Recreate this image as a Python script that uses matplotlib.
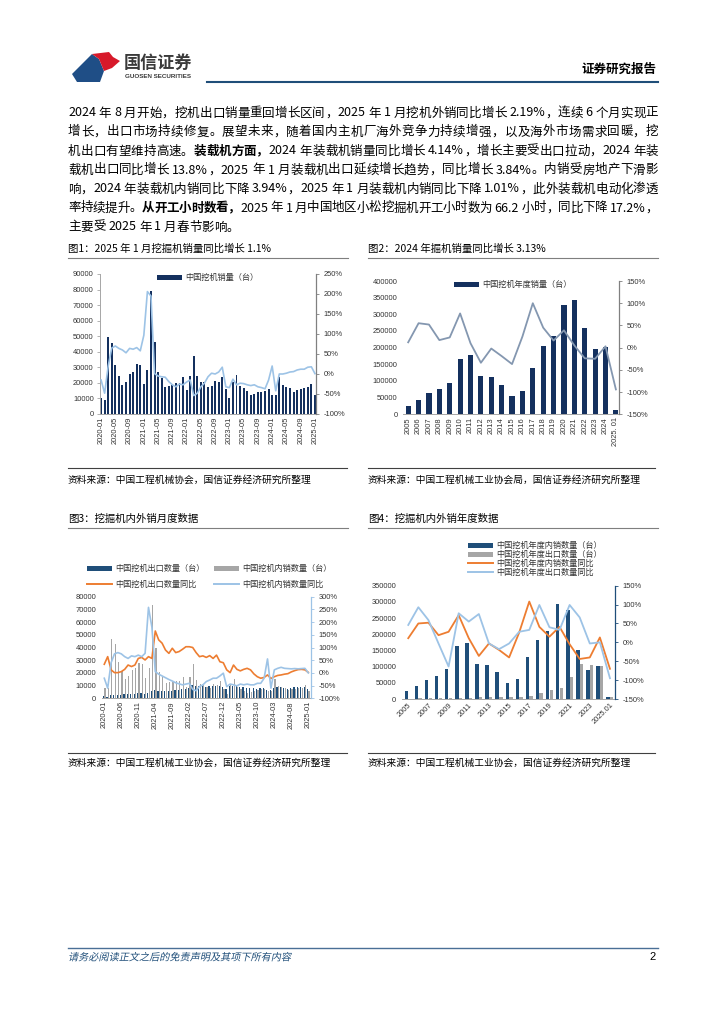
import numpy as np
import pandas as pd
import matplotlib
matplotlib.use("Agg")
import matplotlib.pyplot as plt
from matplotlib.font_manager import FontProperties
from matplotlib.lines import Line2D
from matplotlib.patches import Polygon, Rectangle, PathPatch
from matplotlib.textpath import TextPath
from matplotlib.transforms import Affine2D
from matplotlib.ticker import FuncFormatter, MultipleLocator

CJK = ["Noto Sans CJK SC", "DejaVu Sans"]
NUM = ["Liberation Sans", "DejaVu Sans"]
plt.rcParams["font.family"] = CJK
plt.rcParams["axes.unicode_minus"] = False

# ── data ────────────────────────────────────────────────────
months = pd.period_range("2020-01", "2025-01", freq="M").strftime("%Y-%m").tolist()

# fig 1: monthly excavator sales (units) and yoy (%)
excav_total = [10000, 9000, 49400, 45400, 31500, 24400, 18600, 20600, 25700, 27000, 32100, 31300,
               19300, 28300, 79300, 46300, 27000, 23100, 17600, 18200, 18500, 20000, 20000, 24000,
               15600, 24400, 37500, 24400, 20700, 20300, 17500, 18000, 21000, 20300, 23500, 16300,
               10500, 20300, 25000, 18200, 16500, 15000, 12200, 12900, 13900, 13900, 14800, 15900,
               12400, 12500, 23500, 18500, 17500, 16500, 14100, 15200, 15800, 16600, 17600, 19300,
               12500]
excav_yoy = [-15, -48, 20, 65, 70, 64, 60, 53, 64, 62, 66, 58,
             97, 206, 195, 1, -5, -7, -8, -19, -27, -32, -25, -27,
             -20, -15, -54, -48, -32, -23, -7, 2, 0, 5, 17, -32,
             -34, -13, -27, -23, -24, -27, -29, -27, -32, -34, -37, -15,
             20, -42, 0, 0, 2, 5, 6, 10, 12, 12, 17, 18,
             1]

# fig 2: annual excavator sales
years = [str(y) for y in range(2005, 2025)]
annual_labels = years + ["2025. 01"]
annual_sales = [26000, 43000, 65000, 76000, 94000, 166000, 178000, 115000, 111000, 88000,
                56000, 69000, 140000, 204000, 235000, 329000, 343000, 260000, 195000, 201000,
                12500]
annual_yoy = [12, 55, 52, 17, 23, 77, 10, -34, -2, -19, -37, 25, 100, 45, 16, 39, 5, -24, -25, 3, -94]

# fig 3: monthly export / domestic
export_m = [1700, 1100, 2800, 2500, 2600, 2800, 3100, 3000, 3500, 3400, 4000, 4200,
            3600, 4300, 6100, 6300, 6100, 6000, 5600, 5400, 6000, 6200, 6700, 7100,
            7000, 7800, 10400, 9800, 9500, 9300, 8900, 9500, 9900, 9800, 10000, 8800,
            7500, 9500, 10000, 9500, 9000, 9000, 7800, 7900, 8000, 7700, 7800, 8200,
            6900, 6500, 8500, 8700, 8600, 8500, 7600, 8200, 8700, 8700, 9200, 9200,
            7100]
domestic_m = [8300, 7900, 46600, 42900, 28900, 21600, 15500, 17600, 22200, 23600, 28100, 27100,
              15700, 24000, 73200, 40000, 20900, 17100, 12000, 12800, 12500, 13800, 13300, 16900,
              8600, 16600, 27100, 14600, 11200, 11000, 8600, 8500, 11100, 10500, 13500, 7500,
              3000, 10800, 15000, 8700, 7500, 6000, 4400, 5000, 5900, 6200, 7000, 7700,
              5500, 6000, 15000, 9800, 8900, 8000, 6500, 7000, 7100, 7900, 8400, 10100,
              5400]
export_yoy = [34, 64, 12, 1, 1, 5, 14, 31, 25, 31, 57, 61,
              51, 64, 57, 165, 130, 117, 90, 77, 97, 80, 84, 93,
              103, 103, 100, 80, 64, 67, 61, 68, 57, 70, 44, 40,
              12, 1, 31, 14, 8, 14, 18, 12, -4, -15, -21, -18,
              -8, -22, -15, -10, -8, -5, -3, 4, 9, 13, 14, 12,
              2]
domestic_yoy = [-21, -60, 40, 75, 80, 75, 64, 57, 67, 64, 70, 64,
                77, 258, 180, 5, -5, -12, -19, -26, -32, -39, -43, -47,
                -44, -41, -65, -70, -54, -47, -34, -28, -21, -21, -12, -1,
                -54, -44, -47, -51, -44, -47, -44, -47, -47, -41, -41, -21,
                55, -60, 12, 18, 22, 18, 17, 16, 17, 16, 17, 18,
                0]

# fig 4: annual export / domestic
annual_labels4 = years + ["2025.01"]
dom_annual = [24700, 40000, 58600, 72000, 92600, 163600, 174000, 107000, 105000, 83300,
              49400, 61700, 130700, 183000, 210000, 293000, 274700, 151000, 90000, 100500, 5400]
exp_annual = [1300, 2500, 4200, 4500, 1800, 2800, 4500, 6800, 6500, 5200,
              6300, 7300, 9700, 19100, 26900, 34700, 68400, 109500, 105000, 100600, 7100]
dom_annual_yoy = [11, 50, 52, 19, 28, 72, 11, -36, -3, -20, -40, 26, 108, 41, 15, 41, -5, -44, -40, 13, -70]
exp_annual_yoy = [46, 93, 59, -3, -64, 77, 55, 75, -3, -18, -3, 28, 33, 99, 40, 33, 99, 66, -3, 0, -95]

# ── colours ─────────────────────────────────────────────────
NAVY = "#14305E"
BLUE = "#1F4E79"
GRAY = "#A6A6A6"
ORANGE = "#ED7D31"
LIGHT = "#9DC3E6"
SLATE = "#8497B0"
TXT = "#333333"

# ── page helpers ────────────────────────────────────────────
W, H = 724, 1024
fig = plt.figure(figsize=(W / 100, H / 100), dpi=100)
renderer = fig.canvas.get_renderer()


def fx(x):
    return x / W


def fy(y):
    return 1 - y / H


def box(x0, y0, x1, y1):
    return [fx(x0), fy(y1), (x1 - x0) / W, (y1 - y0) / H]


def hline(x0, x1, y, color, lw):
    fig.add_artist(Line2D([fx(x0), fx(x1)], [fy(y), fy(y)], color=color, lw=lw))


def ftext(x, y, s, size, **kw):
    kw.setdefault("va", "center")
    return fig.text(fx(x), fy(y), s, fontsize=size, **kw)


def advance(s, fp):
    w2 = renderer.get_text_width_height_descent("中" + s + "中", fp, ismath=False)[0]
    w0 = renderer.get_text_width_height_descent("中中", fp, ismath=False)[0]
    return w2 - w0


def para_line(parts, y, x0=68, x1=None, size=9.0):
    toks = []
    for s, bold in parts:
        fp = FontProperties(family=CJK, size=size, weight="bold" if bold else "normal")
        run = ""
        for ch in s:
            if ch.isascii() and ch != " ":
                run += ch
                continue
            if run:
                toks.append((run, fp))
                run = ""
            toks.append((ch, fp))
        if run:
            toks.append((run, fp))
    widths = [advance(t, fp) for t, fp in toks]
    gap = 0 if x1 is None else (x1 - x0 - sum(widths)) / (len(toks) - 1)
    x = x0
    for (t, fp), w in zip(toks, widths):
        if t != " ":
            fig.text(fx(x), fy(y), t, fontproperties=fp, va="baseline", ha="left", color="black")
        x += w + gap


def key_bar(x, y, color, label, w=25, h=5):
    fig.add_artist(Rectangle((fx(x), fy(y + h / 2)), w / W, h / H, color=color, lw=0))
    ftext(x + w + 3, y, label, 5.9, color=TXT)


def key_line(x, y, color, label, w=25):
    hline(x, x + w, y, color, 1.4)
    ftext(x + w + 3, y, label, 5.9, color=TXT)


def style_axes(ax, axr, left_on, right_color):
    for a in (ax, axr):
        a.spines["top"].set_visible(False)
    ax.spines["right"].set_visible(False)
    axr.spines["left"].set_visible(False)
    axr.spines["bottom"].set_visible(False)
    ax.spines["left"].set_visible(left_on)
    ax.spines["left"].set_color(GRAY)
    ax.spines["bottom"].set_color(GRAY)
    ax.spines["left"].set_linewidth(0.7)
    ax.spines["bottom"].set_linewidth(0.7)
    axr.spines["right"].set_color(right_color)
    axr.spines["right"].set_linewidth(0.9)
    ax.tick_params(axis="y", length=2.5 if left_on else 0, width=0.6, color=GRAY,
                   labelsize=5.4, labelcolor=TXT, pad=2 if left_on else 4, labelfontfamily=NUM)
    axr.tick_params(axis="y", length=2.5, width=0.6, color=right_color,
                    labelsize=5.4, labelcolor=TXT, pad=3, labelfontfamily=NUM)
    ax.tick_params(axis="x", length=0, labelsize=5.4, labelcolor=TXT, pad=2, labelfontfamily=NUM)
    ax.yaxis.set_major_formatter(FuncFormatter(lambda v, _: f"{v:.0f}"))
    axr.yaxis.set_major_formatter(FuncFormatter(lambda v, _: f"{v:.0f}%"))
    ax.set_facecolor("none")


# ── header ──────────────────────────────────────────────────
fig.add_artist(Polygon([(fx(72), fy(74)), (fx(92), fy(54)), (fx(99), fy(59)), (fx(104), fy(71)),
                        (fx(100), fy(82)), (fx(77), fy(82))], closed=True, color="#1F4E86", lw=0))
fig.add_artist(Polygon([(fx(92), fy(54)), (fx(109), fy(52)), (fx(113), fy(57)), (fx(120), fy(61)),
                        (fx(112), fy(68)), (fx(104), fy(71)), (fx(99), fy(59))], closed=True,
                       color="#D7192A", lw=0))
ftext(124, 63, "国信证券", 12.3, color="#3A3A3A", weight="bold")
ftext(125, 76.5, "GUOSEN SECURITIES", 4.5, color="#3A3A3A", weight="bold", family=NUM)
ftext(656, 69, "证券研究报告", 9, ha="right", weight="bold", color="black")
hline(207, 658, 82, BLUE, 1.5)

# ── paragraph ───────────────────────────────────────────────
lines = [
    [("2024 年 8 月开始，挖机出口销量重回增长区间，2025 年 1 月挖机外销同比增长 2.19%，连续 6 个月实现正", False)],
    [("增长，出口市场持续修复。展望未来，随着国内主机厂海外竞争力持续增强，以及海外市场需求回暖，挖", False)],
    [("机出口有望维持高速。", False), ("装载机方面，", True),
     ("2024 年装载机销量同比增长 4.14%，增长主要受出口拉动，2024 年装", False)],
    [("载机出口同比增长 13.8%，2025 年 1 月装载机出口延续增长趋势，同比增长 3.84%。内销受房地产下滑影", False)],
    [("响，2024 年装载机内销同比下降 3.94%，2025 年 1 月装载机内销同比下降 1.01%，此外装载机电动化渗透", False)],
    [("率持续提升。", False), ("从开工小时数看，", True),
     ("2025 年 1 月中国地区小松挖掘机开工小时数为 66.2 小时，同比下降 17.2%，", False)],
    [("主要受 2025 年 1 月春节影响。", False)],
]
for i, parts in enumerate(lines):
    para_line(parts, 112 + 19.0 * i + 4.5, x1=658 if i < 6 else None)

# ── figure titles / sources ─────────────────────────────────
ftext(68, 249, "图1：2025 年 1 月挖掘机销量同比增长 1.1%", 7.5)
ftext(368, 249, "图2：2024 年掘机销量同比增长 3.13%", 7.5)
hline(68, 348, 258, "#7F7F7F", 0.8)
hline(368, 658, 258, "#7F7F7F", 0.8)
hline(68, 347, 468, "#404040", 0.8)
hline(368, 655, 468, "#404040", 0.8)
ftext(68, 480, "资料来源：中国工程机械协会，国信证券经济研究所整理", 7)
ftext(368, 480, "资料来源：中国工程机械工业协会局，国信证券经济研究所整理", 7)

ftext(68, 519, "图3：挖掘机内外销月度数据", 7.5)
ftext(368, 519, "图4：挖掘机内外销年度数据", 7.5)
hline(68, 348, 528, "#7F7F7F", 0.8)
hline(368, 658, 528, "#7F7F7F", 0.8)
hline(68, 347, 753, "#404040", 0.8)
hline(368, 655, 753, "#404040", 0.8)
ftext(68, 763, "资料来源：中国工程机械工业协会，国信证券经济研究所整理", 7)
ftext(368, 763, "资料来源：中国工程机械工业协会，国信证券经济研究所整理", 7)

# ── fig 1 ───────────────────────────────────────────────────
x1 = np.arange(len(months))
ax1 = fig.add_axes(box(100, 274, 316, 414))
ax1r = ax1.twinx()
ax1.bar(x1, excav_total, width=0.55, color=NAVY)
ax1r.plot(x1, excav_yoy, color=LIGHT, lw=1.2)
ax1.set_xlim(-0.3, 60.3)
ax1.set_ylim(0, 90000)
ax1.yaxis.set_major_locator(MultipleLocator(10000))
ax1r.set_ylim(-100, 250)
ax1r.yaxis.set_major_locator(MultipleLocator(50))
ax1.set_xticks(x1[::4])
ax1.set_xticklabels(months[::4], rotation=90)
style_axes(ax1, ax1r, True, "#808080")
key_bar(157, 277, NAVY, "中国挖机销量（台）")

# ── fig 2 ───────────────────────────────────────────────────
x2 = np.arange(len(annual_labels))
ax2 = fig.add_axes(box(403, 281, 619, 414.3))
ax2r = ax2.twinx()
ax2.bar(x2, annual_sales, width=0.5, color=NAVY)
ax2r.plot(x2, annual_yoy, color=SLATE, lw=1.3)
ax2.set_xlim(-0.5, 20.3)
ax2.set_ylim(0, 400000)
ax2.yaxis.set_major_locator(MultipleLocator(50000))
ax2r.set_ylim(-150, 150)
ax2r.yaxis.set_major_locator(MultipleLocator(50))
ax2.set_xticks(x2)
ax2.set_xticklabels(annual_labels, rotation=90)
style_axes(ax2, ax2r, False, "#808080")
key_bar(454, 284, NAVY, "中国挖机年度销量（台）")

# ── fig 3 ───────────────────────────────────────────────────
ax3 = fig.add_axes(box(101.7, 596.7, 310.7, 698.3))
ax3r = ax3.twinx()
ax3.bar(x1 - 0.2, export_m, width=0.38, color=BLUE)
ax3.bar(x1 + 0.2, domestic_m, width=0.36, color=GRAY)
ax3r.plot(x1, export_yoy, color=ORANGE, lw=1.2)
ax3r.plot(x1, domestic_yoy, color=LIGHT, lw=1.2)
ax3.set_xlim(-0.76, 60.7)
ax3.set_ylim(0, 80000)
ax3.yaxis.set_major_locator(MultipleLocator(10000))
ax3r.set_ylim(-100, 300)
ax3r.yaxis.set_major_locator(MultipleLocator(50))
ax3.set_xticks(x1[::5])
ax3.set_xticklabels(months[::5], rotation=90)
style_axes(ax3, ax3r, False, LIGHT)
key_bar(87, 568, BLUE, "中国挖机出口数量（台）")
key_bar(214, 568, GRAY, "中国挖机内销数量（台）")
key_line(87, 584, ORANGE, "中国挖机出口数量同比")
key_line(214, 584, LIGHT, "中国挖机内销数量同比")

# ── fig 4 ───────────────────────────────────────────────────
x4 = np.arange(len(annual_labels4))
ax4 = fig.add_axes(box(401.7, 585.7, 615, 699))
ax4r = ax4.twinx()
ax4.bar(x4 - 0.18, dom_annual, width=0.34, color=BLUE)
ax4.bar(x4 + 0.18, exp_annual, width=0.34, color=GRAY)
ax4r.plot(x4, dom_annual_yoy, color=ORANGE, lw=1.3)
ax4r.plot(x4, exp_annual_yoy, color=LIGHT, lw=1.3)
ax4.set_xlim(-0.65, 20.5)
ax4.set_ylim(0, 350000)
ax4.yaxis.set_major_locator(MultipleLocator(50000))
ax4r.set_ylim(-150, 150)
ax4r.yaxis.set_major_locator(MultipleLocator(50))
ax4.set_xticks(x4[::2])
ax4.set_xticklabels(annual_labels4[::2], rotation=45, ha="right", rotation_mode="anchor")
style_axes(ax4, ax4r, False, BLUE)
key_bar(468, 545, BLUE, "中国挖机年度内销数量（台）")
key_bar(468, 554, GRAY, "中国挖机年度出口数量（台）")
key_line(468, 563.3, ORANGE, "中国挖机年度内销数量同比")
key_line(468, 572.3, LIGHT, "中国挖机年度出口数量同比")

# ── footer ──────────────────────────────────────────────────
hline(68, 658, 948, "#4A6F96", 1.0)
tp = TextPath((0, 0), "请务必阅读正文之后的免责声明及其项下所有内容",
              prop=FontProperties(family=CJK, size=7.3))
tr = Affine2D().skew_deg(12, 0).scale(1 / 72.0).translate(68 / 100, (H - 960.5) / 100) + fig.dpi_scale_trans
fig.add_artist(PathPatch(tp, transform=tr, color="#1F4E79", lw=0))
ftext(656, 957, "2", 8, ha="right", family=NUM)

fig.savefig("out.png", dpi=100)
